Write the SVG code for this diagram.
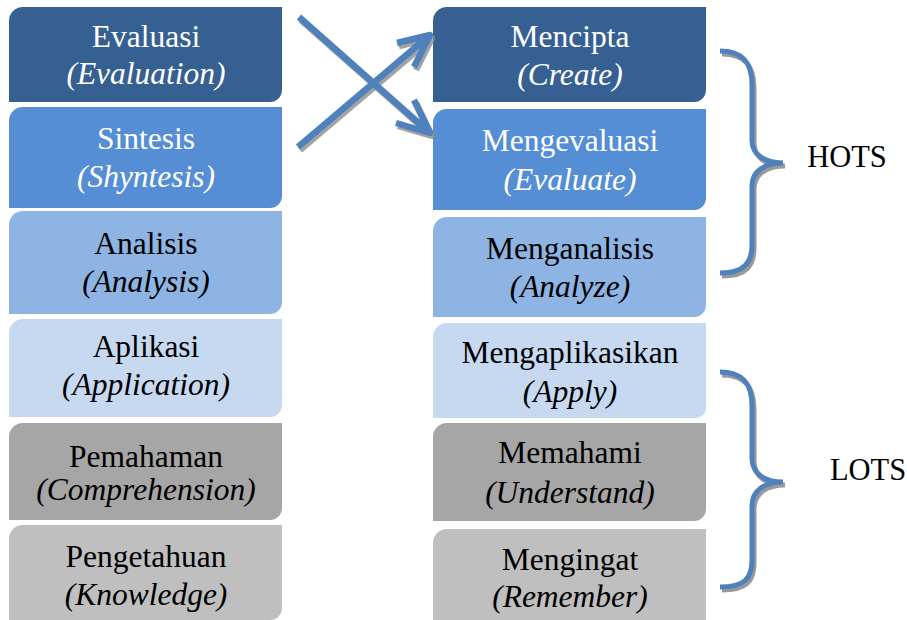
<svg xmlns="http://www.w3.org/2000/svg" width="907" height="620" viewBox="0 0 907 620" font-family="'Liberation Serif', 'Times New Roman', serif">
<style>
text{font-family:"Liberation Serif","Times New Roman",serif;font-size:31.5px;text-anchor:middle}
.lbl{font-size:30.5px}
.i{font-style:italic}
.w{fill:#ffffff}
.k{fill:#000000}
.c1{fill:#366092}.c2{fill:#558ED5}.c3{fill:#8EB4E3}.c4{fill:#C6D9F1}.c5{fill:#A6A6A6}.c6{fill:#BFBFBF}
.ln{fill:none;stroke:#4F81BD;stroke-width:6.5;stroke-linejoin:round}
.sh{fill:none;stroke:#8C8C8C;stroke-width:6.5;stroke-linejoin:round;opacity:0.8}
.br{fill:none;stroke:#4F81BD;stroke-width:5}
.brs{fill:none;stroke:#999999;stroke-width:5}
</style>
<rect width="907" height="620" fill="#ffffff"/>
<g id="evaluasi"><path class="c1" d="M9,21 A14,14 0 0 1 23,7 H282 V90 A12,12 0 0 1 270,102 H9 Z"/><text class="w" x="146" y="47">Evaluasi</text><text class="w i" x="146" y="84">(Evaluation)</text></g>
<g id="sintesis"><path class="c2" d="M9,121 A14,14 0 0 1 23,107 H282 V196 A12,12 0 0 1 270,208 H9 Z"/><text class="w" x="146" y="149">Sintesis</text><text class="w i" x="146" y="187">(Shyntesis)</text></g>
<g id="analisis"><path class="c3" d="M9,225 A14,14 0 0 1 23,211 H282 V302 A12,12 0 0 1 270,314 H9 Z"/><text class="k" x="146" y="254">Analisis</text><text class="k i" x="146" y="292">(Analysis)</text></g>
<g id="aplikasi"><path class="c4" d="M9,333 A14,14 0 0 1 23,319 H282 V405 A12,12 0 0 1 270,417 H9 Z"/><text class="k" x="146" y="357">Aplikasi</text><text class="k i" x="146" y="395">(Application)</text></g>
<g id="pemahaman"><path class="c5" d="M9,437 A14,14 0 0 1 23,423 H282 V508 A12,12 0 0 1 270,520 H9 Z"/><text class="k" x="146" y="467">Pemahaman</text><text class="k i" x="146" y="500">(Comprehension)</text></g>
<g id="pengetahuan"><path class="c6" d="M9,539 A14,14 0 0 1 23,525 H282 V608 A12,12 0 0 1 270,620 H9 Z"/><text class="k" x="146" y="567">Pengetahuan</text><text class="k i" x="146" y="605">(Knowledge)</text></g>

<g id="mencipta"><path class="c1" d="M433,21 A14,14 0 0 1 447,7 H706 V90 A12,12 0 0 1 694,102 H433 Z"/><text class="w" x="570" y="47">Mencipta</text><text class="w i" x="570" y="85">(Create)</text></g>
<g id="mengevaluasi"><path class="c2" d="M433,123 A14,14 0 0 1 447,109 H706 V198 A12,12 0 0 1 694,210 H433 Z"/><text class="w" x="570" y="151">Mengevaluasi</text><text class="w i" x="570" y="190">(Evaluate)</text></g>
<g id="menganalisis"><path class="c3" d="M433,231 A14,14 0 0 1 447,217 H706 V305 A12,12 0 0 1 694,317 H433 Z"/><text class="k" x="570" y="259">Menganalisis</text><text class="k i" x="570" y="297">(Analyze)</text></g>
<g id="mengaplikasikan"><path class="c4" d="M433,337 A14,14 0 0 1 447,323 H706 V408 A10,10 0 0 1 696,418 H433 Z"/><text class="k" x="570" y="363">Mengaplikasikan</text><text class="k i" x="570" y="402">(Apply)</text></g>
<g id="memahami"><path class="c5" d="M433,437 A14,14 0 0 1 447,423 H706 V509 A12,12 0 0 1 694,521 H433 Z"/><text class="k" x="570" y="463">Memahami</text><text class="k i" x="570" y="503">(Understand)</text></g>
<g id="mengingat"><path class="c6" d="M433,543 A14,14 0 0 1 447,529 H706 V620 H433 Z"/><text class="k" x="570" y="570">Mengingat</text><text class="k i" x="570" y="607">(Remember)</text></g>

<g id="connectors">
<g transform="translate(2,3)">
<path class="sh" d="M299,17 L430,133 M396,123 L430,133 L414,100"/>
<path class="sh" d="M298,147 L430,35 M397,43 L430,35 L414,67"/>
</g>
<path class="ln" d="M299,17 L430,133 M396,123 L430,133 L414,100"/>
<path class="ln" d="M298,147 L430,35 M397,43 L430,35 L414,67"/>
</g>

<g id="hots">
<path class="brs" transform="translate(2,3)" d="M720,51 C745,51 752,65 752,85 V140 C752,155 765,163 783,163 C765,163 752,171 752,186 V245 C752,262 745,273 720,273"/>
<path class="br" d="M720,51 C745,51 752,65 752,85 V140 C752,155 765,163 783,163 C765,163 752,171 752,186 V245 C752,262 745,273 720,273"/>
<text class="k lbl" x="847" y="167">HOTS</text>
</g>
<g id="lots">
<path class="brs" transform="translate(2,3)" d="M720,372 C745,372 752,386 752,406 V458 C752,474 765,482 783,482 C765,482 752,490 752,506 V560 C752,578 745,587 720,587"/>
<path class="br" d="M720,372 C745,372 752,386 752,406 V458 C752,474 765,482 783,482 C765,482 752,490 752,506 V560 C752,578 745,587 720,587"/>
<text class="k lbl" x="868" y="480">LOTS</text>
</g>
</svg>
